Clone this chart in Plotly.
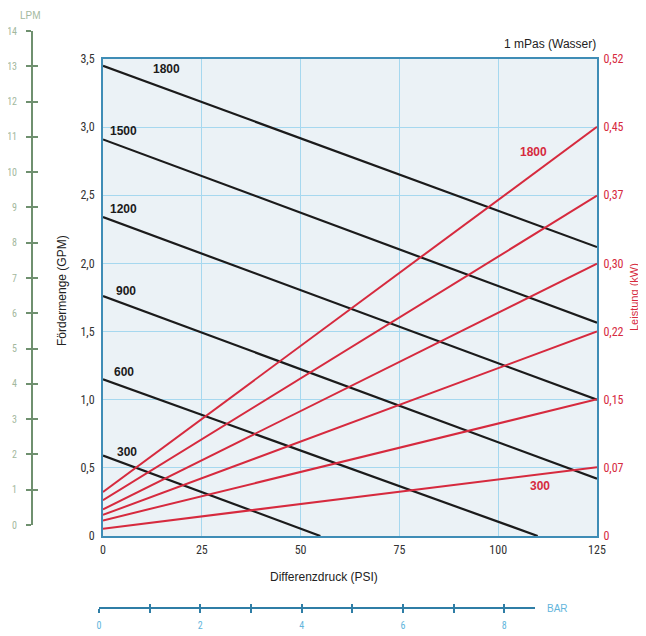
import plotly.graph_objects as go

# ---- data ----
rpm = [300, 600, 900, 1200, 1500, 1800]
psi_start = [0, 0, 0, 0, 0, 0]
flow_psi_end = [55, 110, 125, 125, 125, 125]
flow_at_start = [0.59, 1.15, 1.76, 2.34, 2.91, 3.45]     # GPM at 0 PSI
flow_at_end = [0.0, 0.0, 0.42, 1.00, 1.565, 2.12]        # GPM at end PSI
power_psi_end = [125, 125, 125, 125, 125, 125]
power_at_start = [0.008, 0.017, 0.023, 0.029, 0.039, 0.048]  # kW at 0 PSI
power_at_end = [0.075, 0.149, 0.223, 0.297, 0.371, 0.446]    # kW at 125 PSI

x_ticks = [0, 25, 50, 75, 100, 125]
gpm_ticks = [0, 0.5, 1.0, 1.5, 2.0, 2.5, 3.0, 3.5]
gpm_labels = ["0", "0,5", "1,0", "1,5", "2,0", "2,5", "3,0", "3,5"]
kw_labels = ["0", "0,07", "0,15", "0,22", "0,30", "0,37", "0,45", "0,52"]
lpm_ticks = list(range(0, 15))
bar_ticks = list(range(0, 9))
bar_labels = ["0", "", "2", "", "4", "", "6", "", "8"]

OFF = 8  # page body margin
W, H = 646 - OFF, 636 - OFF
def px(x): return (x - OFF) / W
def py(y): return 1 - (y - OFF) / H

BLACK = "#1b1b1b"
RED = "#d62a3e"
GRID = "#a6d8ef"
FRAME = "#3f8db6"
GREEN_LINE = "#6f906f"
GREEN_TXT = "#a3b89d"
BLUE_LINE = "#2f7ea6"
BLUE_TXT = "#62b5dc"
NARROW = "Liberation Sans Narrow, Arial Narrow, Roboto Condensed, Arial"
SANS = "Liberation Sans, Arial"

fig = go.Figure()

for i, r in enumerate(rpm):
    fig.add_trace(go.Scatter(x=[psi_start[i], power_psi_end[i]],
                             y=[power_at_start[i], power_at_end[i]],
                             mode="lines", line=dict(color=RED, width=2),
                             yaxis="y2", showlegend=False, hoverinfo="skip"))
for i, r in enumerate(rpm):
    fig.add_trace(go.Scatter(x=[psi_start[i], flow_psi_end[i]],
                             y=[flow_at_start[i], flow_at_end[i]],
                             mode="lines", line=dict(color=BLACK, width=2.2),
                             showlegend=False, hoverinfo="skip"))

# helper traces for the LPM and BAR scales
for xa, ya in [("x3", "y3"), ("x3", "y5"), ("x2", "y4"), ("x4", "y4")]:
    fig.add_trace(go.Scatter(x=[None], y=[None], xaxis=xa, yaxis=ya,
                             showlegend=False, hoverinfo="skip"))

x_dom = [px(103), px(597)]
y_dom = [py(536), py(59)]

fig.update_layout(
    width=W, height=H,
    margin=dict(l=0, r=0, t=0, b=0, autoexpand=False),
    paper_bgcolor="white", plot_bgcolor="rgba(0,0,0,0)",
    xaxis=dict(domain=x_dom, range=[0, 125], tickvals=x_ticks, automargin=False,
               showgrid=True, gridcolor=GRID, gridwidth=1,
               showline=True, linecolor=FRAME, linewidth=2, mirror=True,
               ticks="", zeroline=False, ticklabelstandoff=2,
               tickfont=dict(family=NARROW, size=12, color="#333")),
    yaxis=dict(domain=y_dom, range=[0, 3.5], tickvals=gpm_ticks, ticktext=gpm_labels,
               automargin=False,
               showgrid=True, gridcolor=GRID, gridwidth=1,
               showline=True, linecolor=FRAME, linewidth=2, mirror=True,
               ticks="", zeroline=False, ticklabelstandoff=4,
               tickfont=dict(family=NARROW, size=12, color="#333")),
    yaxis2=dict(overlaying="y", side="right", range=[0, 0.52], automargin=False,
                tickvals=[0.52 * k / 7 for k in range(8)], ticktext=kw_labels,
                showgrid=False, zeroline=False, showline=True, linecolor=FRAME, linewidth=2,
                ticks="", ticklabelstandoff=2,
                tickfont=dict(family=NARROW, size=12, color=RED)),
    # LPM scale
    xaxis3=dict(domain=[0, 0.01], visible=False, anchor="y3", automargin=False),
    yaxis3=dict(domain=[py(525), py(31)], range=[0, 14], tickvals=lpm_ticks,
                anchor="free", position=px(32), side="left", automargin=False,
                showline=True, linecolor=GREEN_LINE, linewidth=2,
                ticks="outside", ticklen=5, tickwidth=2, tickcolor=GREEN_LINE,
                showgrid=False, zeroline=False, ticklabelstandoff=7,
                tickfont=dict(family=NARROW, size=10, color=GREEN_TXT)),
    yaxis5=dict(overlaying="y3", range=[0, 14], tickvals=lpm_ticks,
                anchor="free", position=px(32), side="left", automargin=False,
                showline=False, ticks="inside", ticklen=5, tickwidth=2,
                tickcolor=GREEN_LINE, showticklabels=False,
                showgrid=False, zeroline=False),
    # BAR scale
    xaxis2=dict(domain=[px(99), px(535)], range=[0, 8.606], tickvals=bar_ticks,
                ticktext=bar_labels, anchor="free", position=py(608), side="bottom",
                automargin=False,
                showline=True, linecolor=BLUE_LINE, linewidth=2,
                ticks="outside", ticklen=4, tickwidth=1.5, tickcolor=BLUE_LINE,
                showgrid=False, zeroline=False, ticklabelstandoff=4,
                tickfont=dict(family=NARROW, size=10, color=BLUE_TXT)),
    xaxis4=dict(overlaying="x2", range=[0, 8.606], tickvals=bar_ticks,
                anchor="free", position=py(608), side="bottom", automargin=False,
                showline=False, ticks="inside", ticklen=4, tickwidth=1.5,
                tickcolor=BLUE_LINE, showticklabels=False,
                showgrid=False, zeroline=False),
    yaxis4=dict(domain=[0, 0.01], visible=False, anchor="x2", automargin=False),
)

fig.add_shape(type="rect", xref="x domain", yref="y domain", x0=0, x1=1, y0=0, y1=1,
              fillcolor="#ebf2f6", line=dict(width=0), layer="below")

ann = []
# curve labels (data coordinates)
black_lbl = {1800: (16, 3.43), 1500: (5.1, 2.97), 1200: (5.3, 2.40),
             900: (5.7, 1.80), 600: (5.3, 1.20), 300: (6.1, 0.62)}
for r, (x, y) in black_lbl.items():
    ann.append(dict(x=x, y=y, xref="x", yref="y", text=f"<b>{r}</b>", showarrow=False,
                    xanchor="center", yanchor="middle",
                    font=dict(family=SANS, size=12, color=BLACK)))
for r, (x, y) in {1800: (109, 0.419), 300: (110.6, 0.054)}.items():
    ann.append(dict(x=x, y=y, xref="x", yref="y2", text=f"<b>{r}</b>", showarrow=False,
                    xanchor="center", yanchor="middle",
                    font=dict(family=SANS, size=12, color=RED)))

def label(x, y, text, color, size=12, angle=0, xanchor="center", yanchor="middle"):
    return dict(x=px(x), y=py(y), xref="paper", yref="paper", text=text, showarrow=False,
                xanchor=xanchor, yanchor=yanchor, textangle=angle, borderpad=0,
                font=dict(family=SANS, size=size, color=color))

ann += [
    label(597, 44, "1 mPas (Wasser)", "#222", xanchor="right"),
    label(324, 577, "Differenzdruck (PSI)", "#222"),
    label(62, 291, "Fördermenge (GPM)", "#222", angle=-90),
    label(634, 297, "Leistung (kW)", RED, size=11, angle=-90),
    label(30, 9, "LPM", GREEN_TXT, size=10, yanchor="top"),
    label(557, 608, "BAR", BLUE_TXT, size=10),
]
fig.update_layout(annotations=ann)

fig.write_html("out.html")
